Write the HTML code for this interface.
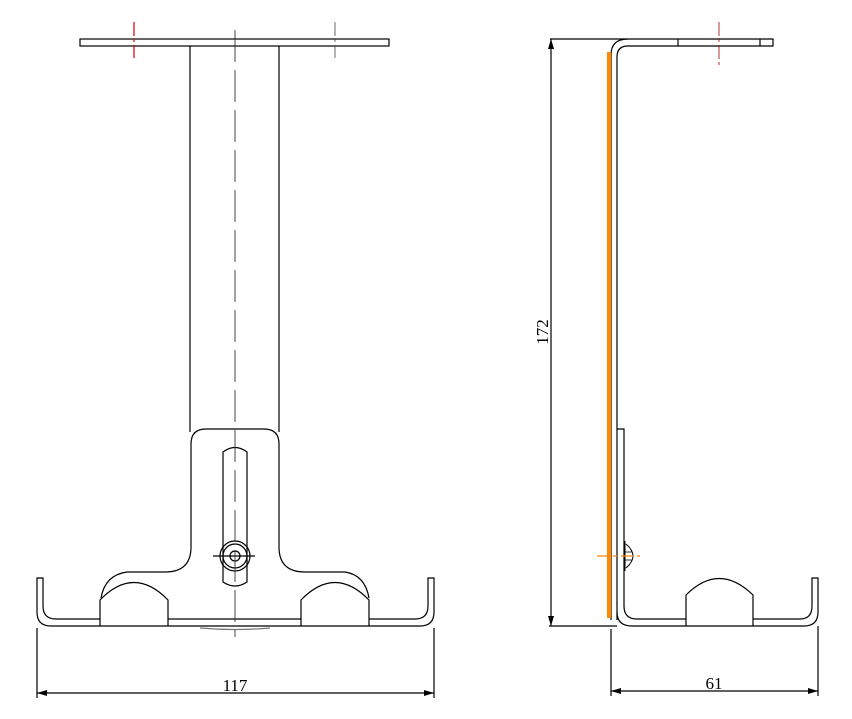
<!DOCTYPE html>
<html><head><meta charset="utf-8"><style>html,body{margin:0;padding:0;background:#fff}svg{display:block}</style></head>
<body>
<svg width="852" height="719" viewBox="0 0 852 719" xmlns="http://www.w3.org/2000/svg" fill="none" stroke="#000" stroke-width="1.2">
<defs>
<marker id="a" viewBox="0 0 10 10" refX="10" refY="5" markerWidth="10" markerHeight="10" markerUnits="userSpaceOnUse" orient="auto-start-reverse"><path d="M0,2 L10,5 L0,8 z" fill="#000" stroke="none"/></marker>
</defs>
<!-- LEFT VIEW -->
<rect x="80" y="39" width="309" height="7"/>
<line x1="134" y1="22" x2="134" y2="58" stroke="#d00" stroke-dasharray="14,3,3,3"/>
<line x1="335" y1="22" x2="335" y2="58" stroke="#444" stroke-dasharray="14,3,3,3" stroke-width="0.8"/>
<line x1="190" y1="46" x2="190" y2="432"/>
<line x1="279" y1="46" x2="279" y2="432"/>
<path d="M191,547 L191,444 Q191,429 206,429 L264,429 Q279,429 279,444 L279,547 Q279,572 305,572 L345,572 Q365,575 369,598"/>
<path d="M191,547 Q191,572 165,572 L127,572 Q105,575 101,598"/>
<path d="M100,626 L100,600 Q134,565 168,600 L168,626"/>
<path d="M301,626 L301,600 Q335,565 369,600 L369,626"/>
<path d="M100,619 L56,619 Q43,619 43,606 L43,578 L37,578 L37,612 Q37,626 51,626 L420,626 Q434,626 434,612 L434,578 L428,578 L428,606 Q428,619 415,619 L369,619"/>
<line x1="168" y1="619" x2="301" y2="619"/>
<path d="M200,628 Q235,631 270,628" stroke="#777"/>
<path d="M223,582 L223,452 Q235,443 247,452 L247,582 Q235,590 223,582 Z"/>
<circle cx="235" cy="556" r="15"/>
<circle cx="235" cy="556" r="12"/>
<circle cx="235" cy="556" r="5"/>
<line x1="213" y1="556" x2="255" y2="556"/>
<line x1="235" y1="30" x2="235" y2="637" stroke="#333" stroke-width="0.9" stroke-dasharray="32,8"/>
<!-- dim 117 -->
<line x1="37" y1="628" x2="37" y2="698"/>
<line x1="434" y1="628" x2="434" y2="698"/>
<line x1="37" y1="693" x2="434" y2="693" marker-start="url(#a)" marker-end="url(#a)"/>
<text x="235" y="691" font-family="Liberation Serif, serif" font-size="17" fill="#000" stroke="none" text-anchor="middle">117</text>
<!-- RIGHT VIEW -->
<path d="M611,620 L611,55 Q611,39 628,39 L773,39 L773,46 L628,46 Q617,46 617,57 L617,620"/>
<line x1="550" y1="39" x2="628" y2="39"/>
<line x1="678" y1="39" x2="678" y2="46"/>
<line x1="760" y1="39" x2="760" y2="46"/>
<line x1="719" y1="22" x2="719" y2="66" stroke="#a00" stroke-width="0.8" stroke-dasharray="14,3,3,3"/>
<line x1="609" y1="52" x2="609" y2="618" stroke="#f80" stroke-width="4"/>
<path d="M617,429 L624,429 L624,606 Q624,619 637,619 L686,619 M753,619 L800,619 Q812,619 812,606 L812,578 L818,578 L818,612 Q818,626 804,626 L632,626 Q617,626 617,612"/>
<path d="M686,626 L686,595 Q719,562 753,595 L753,626"/>
<path d="M625,541 L625,571 M626,544 Q640,556 626,568" stroke-width="1"/>
<line x1="625" y1="552" x2="632" y2="552" stroke-width="0.8"/>
<line x1="625" y1="560" x2="632" y2="560" stroke-width="0.8"/>
<line x1="597" y1="556" x2="640" y2="556" stroke="#f80" stroke-dasharray="12,4,4,4"/>
<!-- dim 172 -->
<line x1="549" y1="626" x2="617" y2="626"/>
<line x1="551" y1="39" x2="551" y2="626" marker-start="url(#a)" marker-end="url(#a)"/>
<text x="0" y="0" transform="translate(548,332) rotate(-90)" font-family="Liberation Serif, serif" font-size="17" fill="#000" stroke="none" text-anchor="middle">172</text>
<!-- dim 61 -->
<line x1="611" y1="629" x2="611" y2="696"/>
<line x1="818" y1="626" x2="818" y2="696"/>
<line x1="611" y1="691" x2="818" y2="691" marker-start="url(#a)" marker-end="url(#a)"/>
<text x="714" y="689" font-family="Liberation Serif, serif" font-size="17" fill="#000" stroke="none" text-anchor="middle">61</text>
</svg>
</body></html>
